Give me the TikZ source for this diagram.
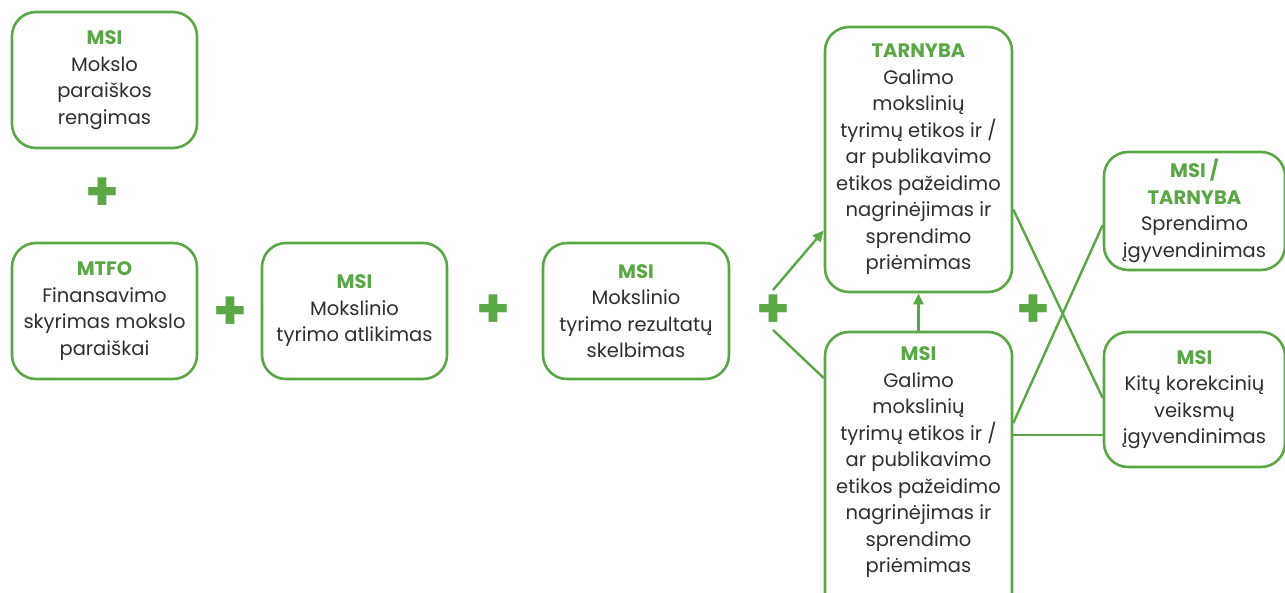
\documentclass[tikz,border=0pt]{standalone}
\usepackage{fontspec}
\setmainfont{Poppins}
\usetikzlibrary{arrows.meta}
\definecolor{lgreen}{HTML}{5AA745}
\definecolor{ltext}{HTML}{2E2E2E}
\newcommand\head[1]{\textcolor{lgreen}{\bfseries #1}}

\begin{document}
\begin{tikzpicture}[x=1pt,y=-1pt,
  box/.style={draw=lgreen,line width=2.6pt,rounded corners=24pt,fill=white,align=center,
    text=ltext,inner sep=0pt,font=\fontsize{19.5}{26.5}\selectfont},
  plus/.style={text=lgreen,inner sep=0pt,font=\fontsize{54}{54}\selectfont\bfseries},
  link/.style={draw=lgreen,line width=2.4pt},
  tip/.style={-{Triangle[length=11pt,width=10pt]}}]
\useasboundingbox (0,0) rectangle (1285,592);
\clip (0,0) rectangle (1285,592);

\node[box,minimum width=185pt,minimum height=136pt] (paraiska) at (104.5,80) {\head{MSI}\\Mokslo\\paraiškos\\rengimas};
\node[box,minimum width=185pt,minimum height=136pt] (finans) at (104.5,311) {\head{MTFO}\\Finansavimo\\skyrimas mokslo\\paraiškai};
\node[box,minimum width=185pt,minimum height=136pt] (atlik) at (354.5,311) {\head{MSI}\\Mokslinio\\tyrimo atlikimas};
\node[box,minimum width=186pt,minimum height=136pt] (skelb) at (636,311) {\head{MSI}\\Mokslinio\\tyrimo rezultatų\\skelbimas};
\node[box,minimum width=187pt,minimum height=265pt] (tarnyba) at (918.5,159.5) {\head{TARNYBA}\\Galimo\\mokslinių\\tyrimų etikos ir /\\ar publikavimo\\etikos pažeidimo\\nagrinėjimas ir\\sprendimo\\priėmimas};
\node[box,minimum width=187pt,minimum height=292pt] (msitarn) at (918.5,478) {\head{MSI}\\Galimo\\mokslinių\\tyrimų etikos ir /\\ar publikavimo\\etikos pažeidimo\\nagrinėjimas ir\\sprendimo\\priėmimas\\[10pt]};
\node[box,minimum width=181pt,minimum height=118pt] (sprend) at (1194.5,211) {\head{MSI /}\\\head{TARNYBA}\\Sprendimo\\įgyvendinimas};
\node[box,minimum width=181pt,minimum height=135pt] (kitu) at (1194.5,399.5) {\head{MSI}\\Kitų korekcinių\\veiksmų\\įgyvendinimas};

\node[plus] (p1) at (102.5,194) {+};
\node[plus] (p2) at (230,313) {+};
\node[plus] (p3) at (493,311) {+};
\node[plus] (p4) at (773,311) {+};
\node[plus] (p5) at (1033,311) {+};

\draw[link,tip] ([yshift=21pt]p4.center) -- ([yshift=-71pt]tarnyba.west);
\draw[link] ([yshift=-19pt]p4.center) -- ([yshift=100pt]msitarn.west);
\draw[link,tip] (msitarn.north) -- (tarnyba.south);
\draw[link] ([yshift=-50pt]tarnyba.east) -- ([yshift=1.5pt]kitu.west);
\draw[link] ([yshift=55pt]msitarn.east) -- ([yshift=-14pt]sprend.west);
\draw[link] ([yshift=43pt]msitarn.east) -- ([yshift=-35.5pt]kitu.west);
\end{tikzpicture}
\end{document}
